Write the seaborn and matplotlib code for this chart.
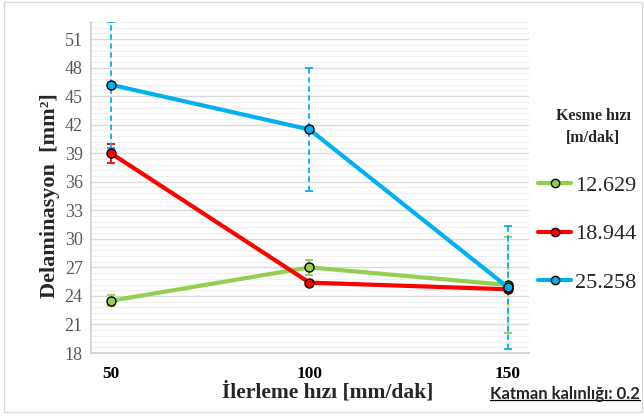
import numpy as np
import pandas as pd
import matplotlib
matplotlib.use("Agg")
import matplotlib.pyplot as plt
from matplotlib.patches import Rectangle
from matplotlib.lines import Line2D
import seaborn as sns

# ── data ──
feed = [50, 100, 150]
speeds = ["12.629", "18.944", "25.258"]
delam_12629 = [23.5, 27.0, 25.15]
delam_18944 = [39.0, 25.4, 24.7]
delam_25258 = [46.2, 41.5, 24.9]
err_12629 = [0.6, 0.8, 5.05]
err_18944 = [1.0, 0.3, 0.3]
err_25258 = [6.6, 6.5, 6.5]
colors = ["#92D050", "#FF0000", "#00B0F0"]
yticks = list(range(18, 52, 3))

sns.set_style("white")
SERIF = ["Liberation Serif", "DejaVu Serif"]
plt.rcParams["font.family"] = SERIF

df = pd.DataFrame({
    "feed": feed * 3,
    "delam": delam_12629 + delam_18944 + delam_25258,
    "speed": [s for s in speeds for _ in feed],
})

fig = plt.figure(figsize=(6.44, 4.18), dpi=100)
ax = fig.add_axes([91 / 644, 1 - 353 / 418, (529 - 91) / 644, (353 - 22) / 418])

# grid
ax.set_yticks(yticks)
ax.set_yticks(np.arange(18, 52.81, 0.6), minor=True)
ax.grid(True, which="major", axis="y", color="#D9D9D9", lw=1.0, zorder=0)
ax.grid(True, which="minor", axis="y", color="#F0F0F0", lw=0.9, zorder=0)
ax.set_axisbelow(True)

# error bars (dashed)
for vals, errs, c in zip([delam_12629, delam_18944, delam_25258],
                         [err_12629, err_18944, err_25258], colors):
    eb = ax.errorbar(feed, vals, yerr=errs, fmt="none", ecolor=c,
                     elinewidth=1.3, capsize=3, capthick=1.3, zorder=2)
    eb[2][0].set_linestyle((0, (3, 2)))

sns.lineplot(data=df, x="feed", y="delam", hue="speed", palette=colors,
             marker="o", markersize=6.5, markeredgecolor="black",
             markeredgewidth=1.0, linewidth=3.0, ax=ax, zorder=3,
             legend=False)

ax.set_xlim(44.96, 155.3)
ax.set_ylim(18, 52.8)
ax.set_xticks(feed)
ax.set_xticklabels([str(f) for f in feed], fontsize=12.5, fontweight="bold",
                   color="black")
ax.tick_params(axis="y", labelsize=13, labelcolor="#595959", length=0, pad=6)
ax.tick_params(axis="x", length=0, pad=9)
for s in ["top", "right"]:
    ax.spines[s].set_visible(False)
for s in ["left", "bottom"]:
    ax.spines[s].set_color("#D0D0D0")
    ax.spines[s].set_linewidth(1.2)

ax.set_xlabel("İlerleme hızı [mm/dak]", fontsize=15.5, fontweight="bold",
              labelpad=0)
ax.xaxis.label.set_x((328 - 91) / 438)
ax.set_ylabel("Delaminasyon  [mm²]", fontsize=16, fontweight="bold",
              labelpad=3)
ax.yaxis.label.set_y(0.475)

# legend
handles = [Line2D([], [], color=c, lw=3.0, marker="o", markersize=6,
                  markeredgecolor="black", markeredgewidth=1.0)
           for c in colors]
leg = fig.legend(handles, speeds, loc="center left",
                 bbox_to_anchor=(538 / 644, 1 - 234 / 418), frameon=False,
                 prop={"family": SERIF, "size": 16}, borderpad=0,
                 borderaxespad=0, handlelength=1.5, handletextpad=0.15,
                 labelspacing=1.27)
fig.text(593 / 644, 1 - 127 / 418, "Kesme hızı\n[m/dak]", ha="center",
         va="center", fontsize=11.5, fontweight="bold", linespacing=1.55)

# note
note = fig.text(640 / 644, 1 - 394 / 418, "Katman kalınlığı: 0.2",
                ha="right", va="center", fontsize=12, fontweight="bold",
                family=["Lato", "DejaVu Sans"])
fig.canvas.draw()
bb = note.get_window_extent().transformed(fig.transFigure.inverted())
fig.add_artist(Line2D([bb.x0, bb.x1], [bb.y0 + 0.004, bb.y0 + 0.004],
                      transform=fig.transFigure, color="black", lw=0.9))

# outer border
fig.add_artist(Rectangle((4 / 644, 1 - 412 / 418), 0.99, (412 - 2) / 418,
                         transform=fig.transFigure, fill=False,
                         edgecolor="#D9D9D9", lw=1.0))

fig.savefig("out.png", dpi=100)
